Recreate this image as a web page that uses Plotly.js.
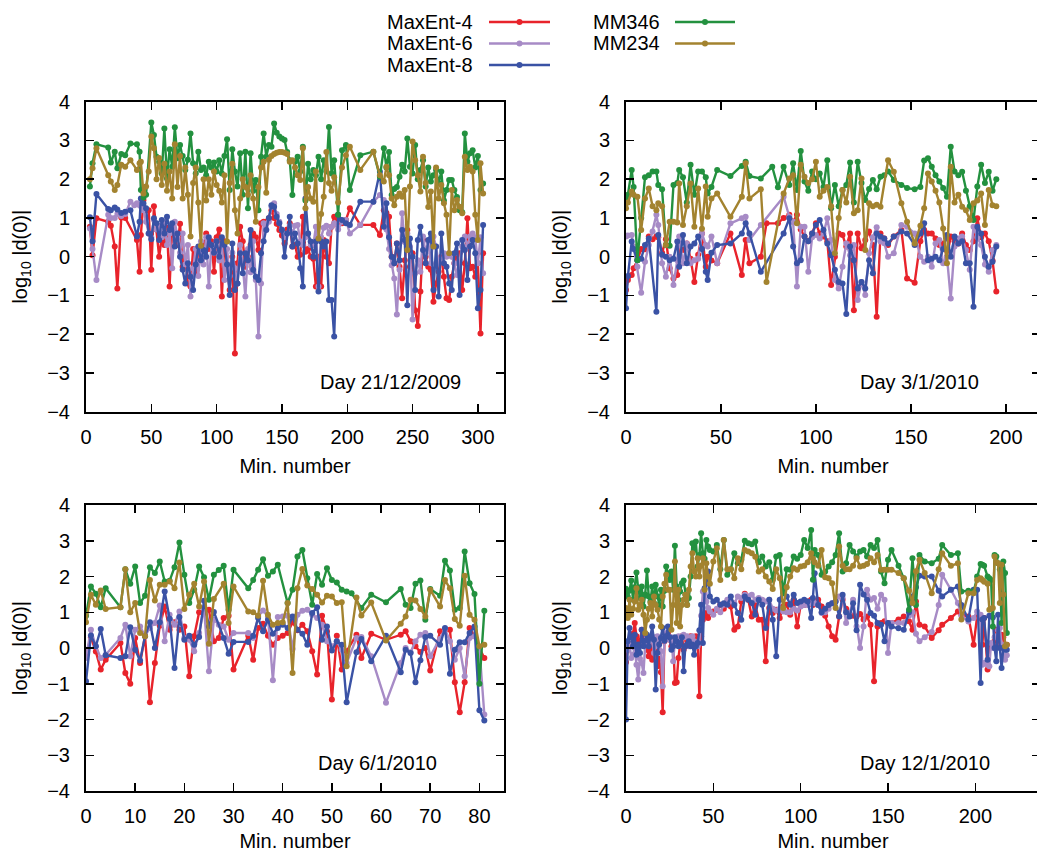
<!DOCTYPE html>
<html>
<head>
<meta charset="utf-8">
<script src="https://cdn.plot.ly/plotly-3.0.1.min.js"></script>
<style>
html,body{margin:0;padding:0;overflow:hidden;background:#fff;}
#chart{width:1050px;height:853px;}
</style>
</head>
<body>
<div id="chart"></div>
<script>
// ---------------- DATA ----------------
const seriesNames = ['MaxEnt-4', 'MaxEnt-6', 'MaxEnt-8', 'MM346', 'MM234'];
const dayLabels = ['Day 21/12/2009', 'Day 3/1/2010', 'Day 6/1/2010', 'Day 12/1/2010'];
const yTickValues = [-4, -3, -2, -1, 0, 1, 2, 3, 4];

// Day 21/12/2009
const x_day1 = [3,5,8,17,19,22,24,27,30,34,37,39,41,42,44,46,48,50,
52,54,56,58,60,62,64,66,68,70,
72,74,76,78,80,82,84,86,88,90,
92,94,96,98,100,102,104,106,108,110,
112,114,116,118,120,122,124,126,128,130,
132,134,136,138,140,142,144,146,148,150,
152,154,156,158,160,162,164,166,168,170,
172,174,176,178,180,182,184,186,188,190,
193,196,199,202,210,220,225,
228,230,232,234,236,238,240,242,244,246,
248,250,252,254,256,258,260,262,264,266,
268,270,272,274,276,278,280,282,284,286,
288,290,292,294,296,298,300,302,304];
const maxent4_day1 = [0.77,0.04,0.99,0.9,0.8,0.26,-0.82,1.01,1.0,null,null,0.43,-0.39,0.56,1.46,1.2,1.2,-0.34,
1.3,0.7,0.0,0.5,0.3,0.75,-0.77,0.8,0.4,0.3,
0.85,-0.26,0.0,-0.69,-0.77,0.2,-0.4,0.1,-0.1,0.25,
0.6,0.2,0.4,-0.39,0.5,0.7,-1.03,0.4,-0.2,-0.86,
0.0,-2.5,-0.17,0.77,0.4,-0.26,0.0,0.3,0.6,0.5,
0.17,0.86,0.9,0.9,0.99,1.2,1.0,0.85,0.69,0.55,
0.34,0.7,0.86,0.26,0.3,0.0,0.05,1.03,0.13,0.2,
0.0,-0.05,-0.77,0.0,-0.77,0.43,0.0,-0.17,0.77,1.03,
0.9,0.86,0.95,1.25,0.82,0.82,0.56,
1.2,1.13,1.03,0.0,-0.17,0.34,-0.26,-1.07,-0.09,0.69,
-0.26,0.09,-1.38,-1.79,-0.9,0.43,0.0,-0.26,-0.34,-1.16,
-0.69,-0.39,0.0,-0.52,-1.07,-1.12,-0.52,-0.17,-0.04,0.09,
-0.86,-0.17,0.99,-0.3,-0.26,-0.52,-0.17,-1.98,0.09];
const maxent6_day1 = [0.73,0.2,-0.6,1.08,1.0,1.0,1.1,1.05,1.1,1.42,1.33,1.38,1.33,1.3,1.2,0.9,0.6,0.5,
0.95,0.7,0.8,0.5,0.9,0.3,0.6,-0.3,0.9,0.5,
0.1,0.6,-0.2,0.3,-1.03,-0.3,0.2,-0.5,0.4,-0.2,
0.5,-0.77,0.3,0.1,0.4,-0.1,0.3,-0.6,0.2,-0.5,
0.1,-0.3,-0.69,0.3,-0.2,-1.03,0.2,-0.4,0.4,-0.6,
-2.06,-0.69,0.86,0.7,0.9,1.29,1.38,1.1,0.9,0.7,
0.5,0.6,0.8,0.6,0.8,0.82,0.4,0.3,0.5,0.6,
0.3,0.3,0.77,-0.77,0.5,0.75,0.8,0.6,0.77,0.86,
0.7,0.9,0.95,0.6,0.82,1.42,1.59,
1.46,0.7,0.2,-0.22,-0.56,-1.49,-0.34,1.12,0.38,0.6,
0.26,-1.62,-0.43,-0.09,-0.39,0.52,0.09,0.39,-0.17,0.52,
0.26,-0.17,-0.09,0.09,0.0,0.09,0.0,-0.17,-0.47,-0.09,
0.26,0.52,0.26,0.52,0.6,0.5,-0.17,0.5,-0.43];
const maxent8_day1 = [1.02,0.4,1.62,1.23,1.2,1.27,1.22,1.13,1.16,1.2,null,0.52,0.9,1.5,1.37,1.25,0.6,0.45,
0.99,0.86,0.43,0.95,0.6,1.03,0.69,0.86,0.26,0.6,
0.0,-0.34,-0.69,-0.17,-0.52,-0.86,-0.2,0.26,-0.09,0.17,
0.0,0.5,0.3,0.1,0.4,0.0,0.5,0.3,-0.2,-0.99,
0.34,-0.86,-0.69,0.09,-0.43,0.09,-0.09,0.69,-0.34,-0.52,
-0.6,0.09,0.4,0.69,1.0,1.33,1.29,1.03,0.86,0.69,
0.0,0.6,1.03,0.26,0.6,0.34,-0.3,-0.77,1.5,0.6,
0.39,0.0,0.39,-0.9,0.39,0.26,0.39,-1.12,-1.12,-2.06,
1.08,0.95,0.86,0.82,1.42,1.42,2.19,
0.77,1.38,0.5,0.0,-0.17,0.34,-0.09,0.69,0.43,-1.25,
0.47,0.0,-0.86,0.43,0.77,0.17,-0.17,0.43,0.6,-0.86,
0.26,-1.03,0.6,-0.17,-0.26,-0.69,-0.86,0.09,0.34,-0.99,
0.43,0.17,-0.6,0.26,0.43,0.09,-1.33,-0.86,0.82];
const mm346_day1 = [1.81,2.41,2.9,2.82,2.43,2.71,2.28,2.65,2.62,2.92,null,2.9,2.71,1.72,1.53,1.6,null,3.46,
3.14,2.58,2.45,2.15,3.31,2.02,2.77,2.32,3.34,2.54,
2.88,2.6,2.24,2.5,3.18,2.41,2.15,2.71,2.24,2.3,
2.1,2.45,2.3,2.43,2.2,2.49,2.15,2.6,3.03,1.72,
2.77,2.2,1.81,2.67,1.6,2.71,1.25,2.67,1.7,1.98,
1.2,2.58,3.18,2.58,2.88,2.84,3.44,3.2,3.1,3.05,
3.01,2.7,2.49,1.59,2.45,2.58,2.2,2.84,1.45,2.4,
2.0,2.24,2.1,2.58,2.0,2.49,2.2,3.35,2.15,2.49,
1.08,2.75,2.88,1.72,2.62,2.71,2.06,
2.8,2.3,2.7,1.59,1.75,1.8,2.06,2.37,2.2,3.05,
2.32,2.15,2.88,2.0,2.24,2.49,1.81,2.3,1.94,2.1,
2.24,1.9,2.2,1.45,1.72,1.98,1.98,1.72,1.54,1.2,
1.15,3.18,2.45,2.67,2.75,2.3,2.6,1.72,1.89];
const mm234_day1 = [2.0,2.28,2.8,2.1,1.94,1.72,1.85,2.37,2.32,2.49,null,2.24,2.41,2.45,1.63,1.81,2.2,3.1,
2.8,2.0,2.55,1.85,2.4,1.7,2.2,1.5,2.9,1.8,
2.6,1.5,2.3,1.6,0.52,1.9,2.3,1.4,0.28,2.0,
1.45,2.0,1.6,2.2,1.85,1.7,1.4,2.1,0.39,1.9,
2.4,1.2,0.6,1.5,2.0,1.8,1.6,2.1,1.5,0.9,
1.8,2.3,2.45,1.65,2.5,2.6,2.65,2.68,2.7,2.7,
2.68,2.65,2.45,2.49,2.3,2.1,1.98,2.8,1.25,1.8,
1.5,1.42,2.2,0.47,1.1,1.55,2.7,1.9,1.7,2.05,
1.4,2.3,2.62,2.84,2.24,2.71,2.1,
1.94,2.32,2.1,1.5,1.33,1.55,1.63,1.55,1.72,0.17,
1.81,2.97,2.49,2.1,1.68,2.58,1.9,1.28,1.68,0.26,
2.3,1.5,1.85,1.38,1.08,0.09,1.72,1.2,1.46,1.29,
1.12,2.58,2.24,2.32,2.2,1.08,0.43,2.41,1.63];

// Day 3/1/2010
const x_day2 = [0,1,3,4,6,8,10,12,14,16,
17,19,21,23,25,27,28,30,32,34,
36,38,40,42,43,45,48,52,55,58,
61,63,65,68,71,74,77,80,83,86,
88,90,92,94,96,98,100,102,104,106,
108,110,112,114,116,118,120,122,124,126,
128,130,132,134,136,138,141,145,148,152,
155,157,159,161,163,165,167,169,171,173,
175,177,179,181,183,185,187,189,191,193,
195];
const maxent4_day2 = [-0.86,-0.6,-0.47,-0.3,-0.09,0.2,0.19,0.52,0.45,0.52,
0.5,0.1,0.45,-0.3,-0.56,-0.47,0.3,0.17,0.34,-0.05,
-0.65,0.05,0.6,-0.26,0.0,-0.1,-0.17,null,0.6,null,
-0.47,0.43,-0.17,null,0.0,0.86,null,0.86,1.0,1.08,
0.9,1.08,0.7,0.52,0.4,0.6,0.86,0.6,0.52,0.4,
-0.73,0.0,0.6,0.56,0.26,0.6,-1.38,0.6,0.22,0.43,
0.65,0.3,-1.55,0.6,0.47,0.3,0.52,0.69,-0.56,-0.67,
0.4,0.69,0.6,0.6,0.47,0.3,0.34,0.0,0.52,0.4,
0.34,0.6,0.3,0.17,0.4,0.99,0.5,0.6,0.4,-0.1,
-0.9];
const maxent6_day2 = [0.52,0.55,0.56,0.26,-0.26,-0.93,-0.13,0.3,0.65,1.08,
0.82,-0.17,-0.52,0.0,-0.73,-0.09,0.52,-0.17,0.34,-0.17,
-0.09,-0.05,0.6,0.3,0.26,0.52,-0.17,null,0.86,null,
0.99,1.03,0.43,null,0.82,null,null,null,1.55,1.03,
0.9,-0.77,0.77,0.77,-0.39,0.5,0.56,0.47,0.6,0.99,
0.43,-0.6,-0.82,-0.26,0.34,0.04,0.3,-1.12,-0.65,-0.99,
0.09,0.5,0.76,0.39,0.35,0.0,0.09,0.82,0.77,0.6,
0.0,-0.13,0.0,-0.26,0.34,0.43,-0.17,0.0,-1.08,0.26,
0.47,0.52,0.17,-0.34,0.77,0.5,0.3,-0.2,-0.39,0.17,
0.3];
const maxent8_day2 = [-1.33,-0.5,0.39,0.2,-0.09,-0.05,0.3,0.47,null,-1.42,
0.56,0.05,0.0,-0.09,-0.05,0.39,-0.26,0.56,-0.17,0.26,
0.34,0.52,0.2,-0.39,-0.6,0.1,0.3,null,0.34,null,
0.6,0.86,0.6,null,-0.39,null,null,null,0.6,0.99,
0.26,-0.17,-0.09,0.52,0.4,0.6,0.82,0.95,0.69,0.34,
0.04,-0.34,-0.65,-0.69,-1.48,0.26,-0.09,-0.82,-0.65,-0.82,
-0.09,-0.43,0.6,0.52,0.47,0.34,0.52,0.65,0.6,0.3,
0.6,0.86,-0.09,-0.05,0.0,-0.09,0.2,0.56,0.0,0.52,
0.34,0.4,-0.17,-0.17,-1.29,0.77,0.6,0.0,-0.26,-0.13,
0.26];
const mm346_day2 = [1.5,1.6,2.24,1.8,-0.09,1.0,2.05,2.1,2.2,2.2,
1.85,1.74,0.3,0.28,1.85,1.9,2.24,2.05,1.4,2.37,
1.6,2.2,2.2,2.05,1.63,1.8,2.24,null,2.08,null,
2.34,2.45,2.08,null,2.02,null,2.32,1.79,2.32,1.85,
2.41,1.72,2.73,1.94,1.7,2.2,2.0,2.15,1.8,2.49,
1.25,1.85,1.3,1.72,1.85,2.43,1.4,2.45,1.9,1.46,
1.75,1.98,1.74,2.06,2.1,2.2,1.98,1.85,1.77,1.74,
1.8,2.48,2.54,2.32,2.1,1.94,1.77,1.55,2.84,2.2,
2.1,2.19,1.7,1.3,0.95,1.81,2.37,1.9,2.19,1.7,
2.0];
const mm234_day2 = [1.25,1.4,1.68,1.6,1.55,0.69,1.5,1.76,1.3,1.2,
1.38,1.3,0.3,0.9,0.9,0.88,1.89,0.82,1.3,1.89,
0.77,1.76,0.72,1.81,1.03,1.5,1.63,null,1.03,null,
1.55,2.41,1.5,null,1.74,-0.65,null,null,1.63,2.02,
2.1,0.86,2.37,2.06,1.9,2.0,2.45,1.55,1.7,1.8,
1.3,0.09,1.0,1.72,1.4,2.06,1.12,1.2,2.02,0.17,
1.38,1.3,1.34,1.29,null,2.49,2.19,1.38,0.9,0.34,
0.8,1.25,2.15,1.94,1.7,1.4,0.73,-0.17,2.32,1.4,
1.6,1.29,1.2,0.95,1.38,1.45,1.63,0.82,1.72,1.33,
1.3];

// Day 6/1/2010
const x_day3 = [0,1,2,3,4, 7,8,9,10,11, 12,13,14,15,16, 17,18,19,20,21, 22,23,24,25,26, 27,28,29,30,
33,34,35,36,37, 38,39,40,41,42, 43,44,45,46,47, 48,49,50,51,52, 53,54,55,56,58,
61,64,65,66,67, 68,69,70,72,73, 74,75,76,77,78, 79,80,81];
const maxent4_day3 = [-0.2,0.3,-0.1,-0.6,-0.33, 0.14,-0.7,-1.0,0.28,-0.42, 0.34,-1.52,-0.42,0.62,1.16,
0.51,0.72,0.51,0.6,-0.79, 0.33,1.0,0.98,1.07,0.19, 0.28,0.84,0.9,-0.6,
0.34,-0.33,0.56,0.68,0.34, 0.09,0.28,0.34,0.42,0.72, 0.5,0.65,0.47,-0.09,-0.74,
0.9,0.47,-1.44,0.34,-0.6, -0.09,null,0.37,-0.28,0.4, 0.23,0.37,0.47,0.19,0.05,
-0.11,0.0,-0.63,0.47,0.51, 0.51,-0.96,-1.8,-0.96,0.56, 0.33,0.0,-0.28];
const maxent6_day3 = [-0.28,0.51,0.05,-0.28,-0.19, 0.28,0.65,-0.23,0.51,0.6, 0.34,0.56,0.7,1.19,0.19,
0.93,0.65,1.02,0.28,0.23, -0.09,0.42,1.12,-0.65,0.79, 0.65,0.6,0.23,0.42,
0.42,0.28,0.88,1.05,0.88, -0.9,0.87,0.88,0.9,-0.03, 0.93,1.04,1.07,0.93,0.84,
0.65,0.19,0.05,0.19,-0.05, -0.42,null,0.28,0.31,-0.23, -1.53,-0.42,0.0,-0.12,0.19,
0.37,0.42,-0.23,0.25,0.53, 0.19,-0.33,0.0,-0.79,0.28, 0.33,0.0,-1.86];
const maxent8_day3 = [-0.93,0.35,0.05,0.53,-0.2, -0.28,-0.23,0.58,-0.05,-0.35, 0.33,0.72,0.0,0.72,1.58,
0.82,-0.56,0.87,0.23,0.34, 0.09,0.31,1.32,0.6,1.01, null,0.28,-0.16,0.17,
0.17,0.34,0.84,0.47,0.79, 0.4,0.56,0.65,0.56,0.88, 0.51,0.4,0.09,0.98,1.14,
0.23,0.6,-0.07,0.19,0.09, -1.52,null,-0.12,0.25,-0.37, 0.34,-0.68,-0.05,-0.14,-0.96,
-0.34,0.31,0.34,0.09,0.56, -0.72,-0.05,0.16,0.16,0.42, 0.6,-1.74,-2.03];
const mm346_day3 = [0.9,1.72,1.52,1.14,1.67, 1.14,2.2,1.8,2.28,1.26, 1.46,2.26,2.1,2.42,1.86,
1.88,2.26,2.95,2.05,1.26, 1.63,2.28,1.98,1.35,2.05, 2.18,2.3,1.07,2.19,
1.67,1.9,2.19,2.48,2.02, 2.14,2.33,null,1.26,1.63, 2.56,2.74,1.95,1.21,2.07,
1.77,2.23,1.9,1.83,1.63, 1.58,1.53,null,1.12,1.49, 1.28,1.65,1.21,1.12,1.8,
1.89,0.79,1.65,1.46,2.44, 2.17,1.07,1.12,2.7,1.81, 1.51,-1.0,1.04];
const mm234_day3 = [0.72,1.49,1.21,1.61,1.09, 1.14,2.2,1.0,1.26,0.42, 0.33,1.9,1.33,1.77,1.77,
1.86,1.67,2.39,1.09,1.49, 1.8,1.16,1.86,0.12,1.37, null,1.8,0.7,1.72,
1.02,1.0,0.9,1.88,0.93, 0.65,0.7,0.72,1.26,-0.7, 1.67,2.21,1.75,1.65,1.49,
1.27,1.46,1.44,1.26,1.28, -0.51,null,1.41,0.91,1.27, 0.21,0.68,0.88,1.35,1.33,
1.09,0.88,1.63,1.16,1.9, 1.67,0.81,0.62,2.02,0.93, 0.79,0.05,0.09];

// Day 12/1/2010
const x_day4 = [0,1,2,3,4,5,6,7,8,9,
10,11,12,13,14,15,16,17,18,19,
20,21,22,23,24,25,26,27,28,29,
30,31,32,33,34,35,36,37,38,39,
40,41,42,43,44,45,46,47,48,
50,52,54,56,58,60,62,64,66,68,
70,72,74,76,78,80,82,84,86,88,
90,92,94,96,98,100,102,104,106,
107,108,
110,112,114,116,118,120,122,124,126,128,
130,132,134,136,138,140,142,144,146,148,
150,152,
156,159,162,164,166,168,171,175,179,181,
186,190,192,196,199,201,203,204,205,207,
208,209,210,211,212,213,214,215,216,217,
218];
const maxent4_day4 = [-0.4,-0.05,0.1,0.05,0.4,0.7,0.33,0.0,0.2,0.51,
0.23,0.1,-0.05,-0.23,0.1,-0.33,0.05,-0.05,-0.51,-0.3,
-0.68,-1.8,0.19,0.3,0.42,0.23,0.05,0.2,-0.98,-0.96,
-0.28,0.1,0.33,-0.05,0.05,0.2,0.19,0.33,0.1,0.05,
0.33,0.1,-1.35,0.33,0.79,0.9,0.98,0.84,1.0,
1.02,1.07,1.21,1.1,1.3,1.16,0.51,0.6,1.3,1.52,
1.35,0.88,1.2,0.79,0.79,-0.37,1.12,0.98,1.07,0.84,
1.16,1.21,0.93,1.35,0.6,1.21,1.2,1.3,1.35,
1.2,1.25,
1.35,1.16,0.9,0.6,0.33,0.23,0.88,1.35,1.1,0.95,
0.9,0.88,0.95,0.8,0.88,0.65,-0.93,0.6,0.7,0.75,
0.7,0.7,
0.8,0.88,0.75,0.51,1.3,0.65,0.6,0.28,0.5,0.65,
0.84,1.02,0.93,0.88,0.09,0.88,0.84,0.09,0.84,-0.6,
0.09,0.05,0.09,0.2,0.51,0.05,0.2,0.37,0.3,0.09,
0.09];
const maxent6_day4 = [0.09,-0.05,0.1,-0.28,-0.19,0.0,-0.47,-0.88,-0.3,-0.42,
-0.7,0.1,0.33,0.09,0.2,0.33,-0.14,0.05,0.33,0.2,
-0.09,-1.07,0.2,0.42,0.33,0.23,0.3,-0.37,0.2,0.28,
0.33,0.3,0.33,0.37,0.3,0.33,0.05,0.2,0.33,0.19,
0.1,0.05,0.14,0.9,1.58,1.53,1.3,1.12,1.02,
0.93,1.1,1.0,1.21,1.35,1.3,1.25,1.44,1.4,1.49,
1.45,1.49,1.35,1.4,1.35,1.3,1.35,1.1,1.05,1.1,
1.02,1.0,1.0,1.1,1.05,1.16,1.2,1.2,1.25,
1.3,1.25,
1.2,0.98,1.0,1.1,1.25,1.3,1.44,1.4,0.7,0.98,
1.35,0.6,0.0,0.6,1.63,1.35,1.4,1.1,1.49,1.35,
-0.14,0.7,
0.7,0.7,0.9,1.0,0.4,0.19,0.3,0.45,1.2,2.05,
1.63,1.26,0.9,0.74,0.84,1.02,0.93,-0.47,-0.42,-0.47,
-0.51,0.14,0.0,0.3,0.33,0.5,0.56,0.1,-0.2,-0.33,
-0.2];
const maxent8_day4 = [-2.0,0.19,0.56,0.3,0.05,0.37,-0.19,0.1,-0.14,0.51,
0.05,0.2,0.37,0.05,0.3,0.6,0.23,-1.16,-0.14,0.1,
0.28,0.56,0.2,0.33,0.6,0.3,-0.05,0.05,0.3,0.19,
0.05,0.14,0.3,-0.65,0.05,0.1,0.19,0.05,0.1,-0.19,
0.05,0.14,0.5,1.21,0.14,1.67,1.8,2.14,1.44,
1.3,1.35,1.21,1.25,1.21,1.44,1.2,0.98,0.79,1.44,
1.35,1.26,0.93,1.35,1.21,0.56,1.35,0.79,-0.23,1.35,
1.58,1.44,1.21,1.49,1.26,1.3,1.35,1.3,0.84,
1.4,2.09,
1.2,1.0,1.1,1.2,1.25,1.3,0.88,1.49,1.0,0.88,
1.25,0.5,1.77,1.5,1.35,0.98,0.9,0.7,0.65,0.19,
0.7,0.6,
0.55,0.51,1.0,1.44,1.7,2.02,2.0,2.0,1.6,1.44,
1.63,1.72,1.2,0.8,1.63,1.63,-0.98,0.8,0.84,-0.33,
0.9,0.9,0.85,0.0,-0.37,0.93,0.0,-0.56,0.0,-0.05,
-0.05];
const mm346_day4 = [1.66,1.44,1.6,1.89,1.35,1.7,2.11,1.65,1.4,1.72,
1.16,1.5,2.17,1.44,1.3,1.72,1.26,1.77,1.44,1.2,
1.63,1.16,1.6,2.28,2.09,1.9,2.14,1.63,2.86,1.72,
1.35,1.58,1.81,1.89,1.5,1.21,1.4,2.0,2.93,2.74,
2.98,2.28,2.6,3.21,2.65,2.5,3.02,2.84,2.74,
2.7,2.88,2.2,3.02,2.05,2.2,2.65,2.37,2.47,3.0,
2.93,2.9,2.98,2.4,2.56,2.28,2.4,1.91,2.56,2.6,
1.53,2.2,2.19,2.56,2.5,2.6,3.02,2.8,3.3,
1.91,2.74,
2.6,2.05,2.14,2.28,2.4,2.6,3.21,2.14,2.37,2.88,
2.7,2.56,2.7,2.74,2.56,2.88,2.8,3.02,2.14,1.81,
2.47,2.74,
2.3,1.95,1.07,2.51,1.2,2.6,2.42,2.37,2.5,2.88,
2.6,2.65,1.58,1.6,1.58,2.0,2.35,2.33,2.3,2.0,
1.95,1.9,0.6,2.6,2.56,2.37,2.2,0.7,2.42,2.1,
0.42];
const mm234_day4 = [1.12,0.84,1.35,0.93,1.1,1.3,1.67,1.07,1.2,1.35,
0.93,0.42,0.79,1.1,1.26,0.88,1.44,1.2,1.07,0.8,
0.6,1.44,1.8,2.05,1.63,1.63,0.51,1.2,2.42,0.7,
1.63,0.6,1.2,1.35,1.49,1.2,1.63,2.28,2.65,2.14,
2.0,2.51,2.0,2.3,2.51,1.63,2.37,2.0,1.8,
2.42,2.79,1.9,3.02,2.2,2.2,1.95,2.51,2.2,2.74,
2.7,2.65,2.55,2.14,2.2,2.0,1.86,1.65,2.2,1.95,
1.12,1.7,2.0,2.23,2.19,2.28,2.3,2.4,2.65,
2.5,2.4,
2.3,2.74,1.98,1.95,1.81,1.12,2.84,2.3,2.2,2.2,
2.3,2.51,2.28,2.3,2.35,2.51,2.4,2.6,2.19,2.19,
2.19,2.19,
2.1,1.95,1.6,1.26,2.15,2.47,2.1,1.53,2.2,2.65,
2.3,2.37,0.8,1.53,1.53,1.9,1.95,1.9,1.85,1.8,
1.07,1.1,1.12,2.56,2.4,2.37,1.26,2.33,1.5,0.05,
0.09];

// ---------------- STYLE ----------------
const seriesColors = ['#e8232b', '#a78bc6', '#3a52a5', '#23913f', '#a3832f'];
const FONT = 'Liberation Sans, Arial, Helvetica, sans-serif';
const W = 1050, H = 853;

const panels = [
  {x: x_day1, ys: [maxent4_day1, maxent6_day1, maxent8_day1, mm346_day1, mm234_day1], xa: 'x', ya: 'y'},
  {x: x_day2, ys: [maxent4_day2, maxent6_day2, maxent8_day2, mm346_day2, mm234_day2], xa: 'x2', ya: 'y2'},
  {x: x_day3, ys: [maxent4_day3, maxent6_day3, maxent8_day3, mm346_day3, mm234_day3], xa: 'x3', ya: 'y3'},
  {x: x_day4, ys: [maxent4_day4, maxent6_day4, maxent8_day4, mm346_day4, mm234_day4], xa: 'x4', ya: 'y4'}
];

// sanity check of array lengths
const problems = [];
panels.forEach((p, pi) => p.ys.forEach((y, si) => {
  if (y.length !== p.x.length) problems.push('panel ' + (pi + 1) + ' ' + seriesNames[si] + ': ' + y.length + ' vs ' + p.x.length);
}));
if (problems.length) throw new Error('Length mismatch: ' + problems.join('; '));

const traces = [];
panels.forEach(p => {
  p.ys.forEach((y, si) => {
    traces.push({
      type: 'scatter', mode: 'lines+markers', name: seriesNames[si],
      x: p.x, y: y, xaxis: p.xa, yaxis: p.ya, connectgaps: true, showlegend: false,
      line: {color: seriesColors[si], width: 2.4},
      marker: {color: seriesColors[si], size: 6},
      hoverinfo: 'skip'
    });
  });
});

function xAxis(domain, anchor, range, dtick, standoff) {
  return {
    domain: domain, anchor: anchor, range: range, tick0: 0, dtick: dtick,
    showline: true, linecolor: '#000', linewidth: 2, mirror: 'ticks',
    ticks: 'inside', ticklen: 8, tickwidth: 1.5, tickcolor: '#000',
    showgrid: false, zeroline: false, ticklabelstandoff: 6,
    tickfont: {family: FONT, size: 20, color: '#000'},
    title: {text: 'Min. number', font: {family: FONT, size: 20, color: '#000'}, standoff: standoff}
  };
}
function yAxis(domain, anchor) {
  return {
    domain: domain, anchor: anchor, range: [-4, 4], tickvals: yTickValues,
    showline: true, linecolor: '#000', linewidth: 2, mirror: 'ticks',
    ticks: 'inside', ticklen: 8, tickwidth: 1.5, tickcolor: '#000',
    showgrid: false, zeroline: false, ticklabelstandoff: 10,
    tickfont: {family: FONT, size: 20, color: '#000'},
    title: {text: 'log<sub>10</sub> |d(0)|', font: {family: FONT, size: 20, color: '#000'}, standoff: 14}
  };
}

const leftDom = [86 / W, 504 / W];
const rightDom = [626 / W, 1040 / W];
const topDom = [1 - 411.7 / H, 1 - 101.7 / H];
const botDom = [1 - 791 / H, 1 - 505 / H];

const annotations = [
  {text: dayLabels[0], x: 463 / W, y: 1 - 381.7 / H},
  {text: dayLabels[1], x: 981 / W, y: 1 - 381.7 / H},
  {text: dayLabels[2], x: 439 / W, y: 1 - 762.7 / H},
  {text: dayLabels[3], x: 992 / W, y: 1 - 762.7 / H}
].map(a => Object.assign(a, {xref: 'paper', yref: 'paper', xanchor: 'right', yanchor: 'middle', showarrow: false,
  font: {family: FONT, size: 20, color: '#000'}}));

// legend (gnuplot style: text then line sample)
const legendPos = [
  {tx: 475, l0: 489, l1: 550, y: 22},
  {tx: 475, l0: 489, l1: 550, y: 43.5},
  {tx: 475, l0: 489, l1: 550, y: 65},
  {tx: 662, l0: 675, l1: 735, y: 22},
  {tx: 662, l0: 675, l1: 735, y: 43.5}
];
const shapes = [];
seriesNames.forEach((n, i) => {
  const p = legendPos[i];
  annotations.push({text: n, xref: 'paper', yref: 'paper', x: p.tx / W, y: 1 - p.y / H,
    xanchor: 'right', yanchor: 'middle', showarrow: false, font: {family: FONT, size: 20, color: '#000'}});
  shapes.push({type: 'line', xref: 'paper', yref: 'paper', x0: p.l0 / W, x1: p.l1 / W, y0: 1 - p.y / H, y1: 1 - p.y / H,
    line: {color: seriesColors[i], width: 2.4}});
  const cx = (p.l0 + p.l1) / 2;
  shapes.push({type: 'circle', xref: 'paper', yref: 'paper', x0: (cx - 3) / W, x1: (cx + 3) / W,
    y0: 1 - (p.y + 3) / H, y1: 1 - (p.y - 3) / H, fillcolor: seriesColors[i], line: {color: seriesColors[i], width: 0}});
});

const layout = {
  width: W, height: H, margin: {l: 0, r: 0, t: 0, b: 0},
  paper_bgcolor: '#fff', plot_bgcolor: '#fff', showlegend: false,
  font: {family: FONT, size: 20, color: '#000'},
  xaxis: xAxis(leftDom, 'y', [0, 320], 50, 12),
  yaxis: yAxis(topDom, 'x'),
  xaxis2: xAxis(rightDom, 'y2', [0, 218], 50, 12),
  yaxis2: yAxis(topDom, 'x2'),
  xaxis3: xAxis(leftDom, 'y3', [0, 85], 10, 8),
  yaxis3: yAxis(botDom, 'x3'),
  xaxis4: xAxis(rightDom, 'y4', [0, 237], 50, 8),
  yaxis4: yAxis(botDom, 'x4'),
  annotations: annotations,
  shapes: shapes
};

Plotly.newPlot('chart', traces, layout, {staticPlot: true, displayModeBar: false});
</script>
</body>
</html>
